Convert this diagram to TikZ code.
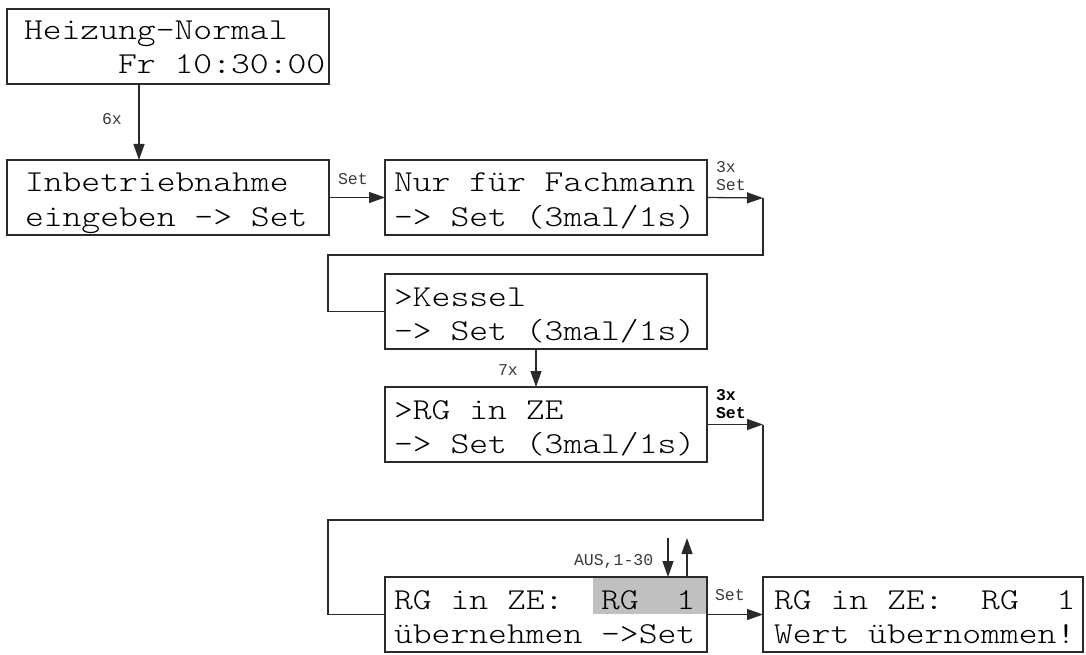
\documentclass[tikz,border=0pt]{standalone}
\usepackage{fontspec}
\usepackage{graphicx}
\usetikzlibrary{arrows.meta}
\newfontfamily\smallmono{Liberation Mono}
\newfontfamily\lcdfont{lmmonolt10-regular.otf}
\definecolor{linec}{HTML}{2A2A2A}
\definecolor{shadec}{HTML}{C0C0C0}
\definecolor{lblc}{HTML}{3A3A3A}
\newcommand\lcdline[1]{\scalebox{1.18}[1]{\fontsize{30.4}{36}\selectfont\lcdfont #1}}
\begin{document}
\begin{tikzpicture}[x=1pt,y=-1pt,
  box/.style={draw=linec, line width=1.4pt, minimum width=322pt, minimum height=75pt, anchor=north west, inner sep=0pt, outer sep=0pt},
  lcd/.style={anchor=base west, inner sep=0pt, outer sep=0pt},
  lbl/.style={anchor=base west, inner sep=0pt, outer sep=0pt, text=lblc, font=\smallmono\fontsize{16.5}{19}\selectfont},
  lblb/.style={lbl, text=black, font=\smallmono\bfseries\fontsize{16.5}{19}\selectfont},
  arr/.style={draw=linec, line width=1.3pt, -{Triangle[length=16pt,width=11pt]}},
  wire/.style={draw=linec, line width=1.3pt}]
\useasboundingbox (0,0) rectangle (1086,655);

% shaded field
\fill[shadec] (593,577) rectangle (707,614);

% boxes
\node[box] (b1) at (7,9) {};
\node[box] (b2) at (7,160) {};
\node[box] (b3) at (385,160) {};
\node[box] (b4) at (385,274) {};
\node[box] (b5) at (385,387) {};
\node[box] (b6) at (385,577) {};
\node[box, minimum width=320pt] (b7) at (763,577) {};

% texts
\node[lcd] (t1a) at (24,39.5) {\lcdline{Heizung-Normal}};
\node[lcd] (t1b) at (24,74) {\lcdline{~~~~~Fr~10:30:00}};
\node[lcd] (t2a) at (25,192) {\lcdline{Inbetriebnahme}};
\node[lcd] (t2b) at (25,226.5) {\lcdline{eingeben~->~Set}};
\node[lcd] (t3a) at (394,192) {\lcdline{Nur~für~Fachmann}};
\node[lcd] (t3b) at (394,226.5) {\lcdline{->~Set~(3mal/1s)}};
\node[lcd] (t4a) at (394,306) {\lcdline{>Kessel}};
\node[lcd] (t4b) at (394,340.5) {\lcdline{->~Set~(3mal/1s)}};
\node[lcd] (t5a) at (394,419) {\lcdline{>RG~in~ZE}};
\node[lcd] (t5b) at (394,453.5) {\lcdline{->~Set~(3mal/1s)}};
\node[lcd] (t6a) at (394,609) {\lcdline{RG~in~ZE:~~RG~~1}};
\node[lcd] (t6b) at (394,643.5) {\lcdline{übernehmen~->Set}};
\node[lcd] (t7a) at (774,609) {\lcdline{RG~in~ZE:~~RG~~1}};
\node[lcd] (t7b) at (774,643.5) {\lcdline{Wert~übernommen!}};

% helper coordinates
\coordinate (x1) at (139,0);
\coordinate (x2) at (536,0);
\coordinate (c1) at (763,198);
\coordinate (c2) at (763,255);
\coordinate (c3) at (328,255);
\coordinate (c4) at (328,311.5);
\coordinate (d1) at (763,424.5);
\coordinate (d2) at (763,520);
\coordinate (d3) at (328,520);
\coordinate (d4) at (328,614.5);
\coordinate (u1) at (668,538);
\coordinate (u2) at (687,538);

% connectors
\draw[arr] (x1 |- b1.south) -- (x1 |- b2.north);
\draw[arr] (b2.east) -- (b3.west);
\draw[arr] (b3.east) -- (c1);
\draw[wire] (c1) -- (c2) -- (c3) -- (c4) -- (b4.west);
\draw[arr] (x2 |- b4.south) -- (x2 |- b5.north);
\draw[arr] (b5.east) -- (d1);
\draw[wire] (d1) -- (d2) -- (d3) -- (d4) -- (b6.west);
\draw[arr] (u1) -- (u1 |- b6.north);
\draw[arr] (u2 |- b6.north) -- (u2);
\draw[arr] (b6.east) -- (b7.west);

% labels
\node[lbl] (l1) at (102,125) {6x};
\node[lbl] (l2) at (338,185) {Set};
\node[lbl] (l3a) at (716,173) {3x};
\node[lbl] (l3b) at (716,190) {Set};
\node[lbl] (l4) at (498,375) {7x};
\node[lblb] (l5a) at (716,400) {3x};
\node[lblb] (l5b) at (716,418) {Set};
\node[lbl] (l6) at (574,565) {AUS,1-30};
\node[lbl] (l7) at (715,600) {Set};
\end{tikzpicture}
\end{document}
